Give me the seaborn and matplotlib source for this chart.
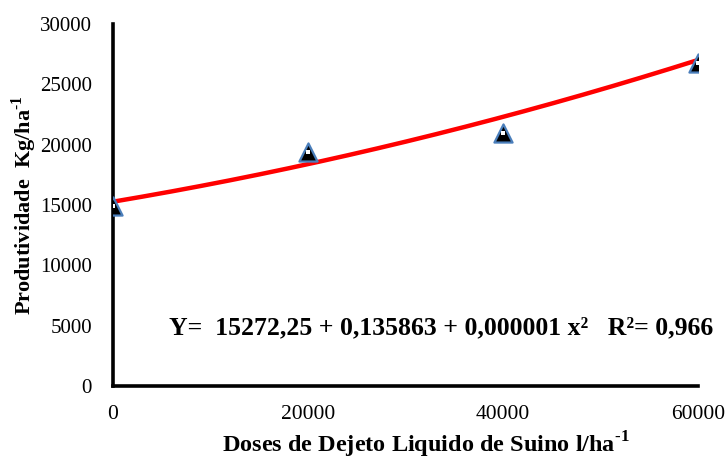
import numpy as np
import pandas as pd
import matplotlib
matplotlib.use("Agg")
import matplotlib.pyplot as plt
import seaborn as sns

# Swine slurry doses (l/ha) and observed yield (kg/ha)
doses = [0, 20000, 40000, 60000]
yield_obs = [14900, 19400, 21000, 26800]

# Quadratic regression coefficients
b0, b1, b2 = 15272.25, 0.135863, 0.000001
r2 = 0.966

x_ticks = [0, 20000, 40000, 60000]
y_ticks = [0, 5000, 10000, 15000, 20000, 25000, 30000]

sns.set_theme(style="white")
plt.rcParams["font.family"] = ["Liberation Serif", "DejaVu Serif"]
plt.rcParams["mathtext.fontset"] = "custom"
plt.rcParams["mathtext.rm"] = "Liberation Serif:bold"
plt.rcParams["mathtext.bf"] = "Liberation Serif:bold"

fig = plt.figure(figsize=(7.28, 4.62), dpi=100)
ax = fig.add_axes([0.155, 0.1645, 0.804, 0.7835])

obs = pd.DataFrame({"dose": doses, "yield": yield_obs})
xs = np.linspace(0, 60000, 300)
fit = pd.DataFrame({"dose": xs, "yield": b0 + b1 * xs + b2 * xs ** 2})

sns.lineplot(data=fit, x="dose", y="yield", ax=ax, color="#ff0000",
             linewidth=3.2, zorder=3)
sns.scatterplot(data=obs, x="dose", y="yield", ax=ax, marker="^", s=170,
                color="black", edgecolor="#4a7ebb", linewidth=1.6, zorder=4)
ax.scatter(doses, yield_obs, marker="s", s=5, color="white", zorder=5,
           linewidths=0)

ax.set_xlim(0, 60000)
ax.set_ylim(0, 30000)
ax.set_xticks(x_ticks)
ax.set_yticks(y_ticks)
ax.set_xticklabels([str(v) for v in x_ticks], fontsize=15.5)
ax.set_yticklabels([str(v) for v in y_ticks], fontsize=15)

for side in ("top", "right"):
    ax.spines[side].set_visible(False)
for side in ("left", "bottom"):
    ax.spines[side].set_linewidth(2.6)
    ax.spines[side].set_color("black")
ax.tick_params(axis="both", direction="out", length=5, width=2.6,
               colors="black")
ax.tick_params(axis="x", pad=9)
ax.tick_params(axis="y", pad=10)
for lbl in ax.get_xticklabels() + ax.get_yticklabels():
    lbl.set_color("black")

ax.set_xlabel(r"Doses de Dejeto Liquido de Suino l/ha$^{\text{-1}}$",
              fontsize=17.5, fontweight="bold", color="black")
ax.xaxis.set_label_coords(0.535, -0.12)
ax.set_ylabel(r"Produtividade  Kg/ha$^{\text{-1}}$",
              fontsize=16, fontweight="bold", color="black", labelpad=1)

ax.text(0.561, 0.162,
        "Y=  15272,25 + 0,135863 + 0,000001 x²   R²= 0,966",
        transform=ax.transAxes, ha="center", va="center",
        fontsize=18.5, fontweight="bold", color="black")

ax.grid(False)
fig.savefig("out.png", dpi=100)
